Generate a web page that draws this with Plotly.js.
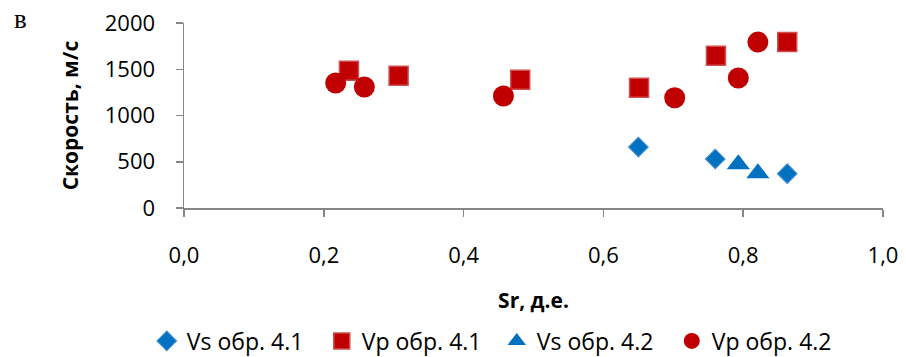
<!DOCTYPE html>
<html>
<head>
<meta charset="utf-8">
<script src="https://cdn.plot.ly/plotly-3.0.1.min.js"></script>
<style>html,body{margin:0;padding:0;background:#fff;}#chart{width:906px;height:357px;}</style>
</head>
<body>
<div id="chart"></div>
<script>
// Series names
const seriesNames = ["Vs обр. 4.1", "Vp обр. 4.1", "Vs обр. 4.2", "Vp обр. 4.2"];

// Vs обр. 4.1 (diamonds)
const vs41_x = [0.650, 0.760, 0.863];
const vs41_y = [659, 530, 371];

// Vp обр. 4.1 (squares)
const vp41_x = [0.236, 0.307, 0.481, 0.651, 0.761, 0.863];
const vp41_y = [1484, 1430, 1387, 1300, 1646, 1794];

// Vs обр. 4.2 (triangles)
const vs42_x = [0.793, 0.821];
const vs42_y = [473, 376];

// Vp обр. 4.2 (circles)
const vp42_x = [0.217, 0.258, 0.457, 0.702, 0.793, 0.821];
const vp42_y = [1351, 1308, 1211, 1192, 1405, 1794];

// Axis labels
const xTitle = "Sr, д.е.";
const yTitle = "Скорость, м/с";
const panelLabel = "в";

const RED = "#C00000", BLUE = "#0070C0";
const FONT = "Open Sans, sans-serif";

const traces = [
  {x: vs41_x, y: vs41_y, name: seriesNames[0], type: "scatter", mode: "markers",
   marker: {symbol: "diamond", size: 15, color: BLUE, line: {color: "#3F8CD0", width: 1.2}}},
  {x: vp41_x, y: vp41_y, name: seriesNames[1], type: "scatter", mode: "markers",
   marker: {symbol: "square", size: 19, color: RED, line: {color: "#CF4E4E", width: 1.5}}},
  {x: vs42_x, y: vs42_y, name: seriesNames[2], type: "scatter", mode: "markers",
   marker: {symbol: "triangle-up", size: 20, color: BLUE, line: {width: 0}}},
  {x: vp42_x, y: vp42_y, name: seriesNames[3], type: "scatter", mode: "markers",
   marker: {symbol: "circle", size: 21, color: RED, line: {width: 0}}}
];

const axisCommon = {
  showline: true, linecolor: "#868686", linewidth: 1.5,
  ticks: "outside", ticklen: 7, tickcolor: "#868686", tickwidth: 1.5,
  showgrid: false, zeroline: false, fixedrange: true, automargin: false,
  tickfont: {family: FONT, size: 22, color: "#000"}
};

const layout = {
  width: 906, height: 357,
  margin: {l: 184, r: 23, t: 23, b: 149, pad: 0, autoexpand: false},
  paper_bgcolor: "#fff", plot_bgcolor: "#fff",
  separators: ", ",
  font: {family: FONT, size: 22, color: "#000"},
  showlegend: true,
  xaxis: Object.assign({}, axisCommon, {
    range: [0, 1], tick0: 0, dtick: 0.2, tickformat: ".1f",
    ticklabelstandoff: 20,
    title: {text: xTitle, font: {family: FONT, size: 21, color: "#000", weight: "bold"}, standoff: 25}
  }),
  yaxis: Object.assign({}, axisCommon, {
    range: [0, 2000], tick0: 0, dtick: 500, tickformat: "d",
    ticklabelstandoff: 16,
    title: {text: yTitle, font: {family: FONT, size: 21, color: "#000", weight: "bold"}, standoff: 20}
  }),
  legend: {
    orientation: "h", xref: "container", yref: "container",
    x: 0.162, xanchor: "left", y: 0.045, yanchor: "middle",
    font: {family: FONT, size: 23, color: "#000"},
    itemwidth: 30, tracegroupgap: 0, bgcolor: "rgba(0,0,0,0)",
    entrywidth: 130, entrywidthmode: "pixels"
  },
  annotations: [{
    text: panelLabel, xref: "paper", yref: "paper", x: -0.234, y: 1.019,
    xanchor: "center", yanchor: "middle", showarrow: false,
    font: {family: "Liberation Serif, serif", size: 27, color: "#000"}
  }]
};

Plotly.newPlot("chart", traces, layout, {displayModeBar: false, staticPlot: true});
</script>
</body>
</html>
